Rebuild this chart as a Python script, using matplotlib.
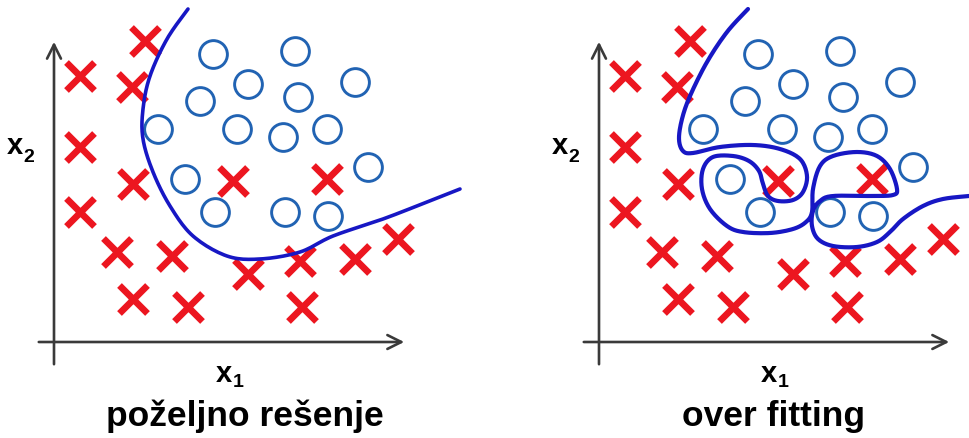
# Decision boundaries: good fit vs over fitting

import numpy as np
import matplotlib.pyplot as plt

# Training samples (same set in both panels), units roughly px from axis origin
cross_x = [91, 26, 78, 26, 79, 26, 179, 273, 63, 118, 194, 246, 301, 344, 79, 134, 248]
cross_y = [301, 266, 255, 195, 158, 130, 161, 163, 90, 86, 68, 81, 83, 103, 43, 35, 35]
circle_x = [159, 241, 194, 244, 301, 146, 104, 183, 229, 273, 314, 131, 161, 231, 274]
circle_y = [288, 291, 258, 245, 260, 241, 213, 213, 205, 213, 175, 163, 130, 130, 126]

# Boundary of the good model
good_x = [134, 113, 96, 89, 89, 99, 116, 139, 173, 206, 246, 279, 329, 373, 406]
good_y = [333, 303, 266, 233, 203, 170, 136, 106, 86, 83, 90, 106, 123, 140, 153]

# Boundary of the over fitted model
over_x = [149, 128, 108, 91, 83, 80, 84, 94, 121, 154, 181, 201, 208, 204, 194, 179,
          169, 164, 160, 150, 134, 114, 104, 103, 111, 128, 144, 171, 194, 207, 213,
          214, 221, 234, 258, 278, 291, 298, 294, 274, 234, 221, 214, 213, 219, 234,
          258, 278, 291, 304, 324, 344, 370]
over_y = [333, 310, 280, 246, 223, 203, 191, 189, 195, 197, 193, 183, 166, 150, 142, 141,
          146, 158, 171, 181, 186, 185, 173, 153, 133, 116, 110, 109, 113, 120, 130,
          153, 176, 186, 190, 186, 173, 153, 147, 146, 146, 141, 131, 116, 103, 96,
          95, 100, 110, 123, 136, 143, 146]

titles = ['poželjno rešenje', 'over fitting']


def smooth(x, y, n=12):
    # catmull-rom through the traced points so the line isn't jagged
    pts = np.column_stack([x, y]).astype(float)
    p = np.vstack([pts[0], pts, pts[-1]])
    t = np.linspace(0, 1, n, endpoint=False)[:, None]
    out = []
    for i in range(1, len(p) - 2):
        p0, p1, p2, p3 = p[i - 1], p[i], p[i + 1], p[i + 2]
        out.append(0.5 * (2 * p1 + (-p0 + p2) * t + (2 * p0 - 5 * p1 + 4 * p2 - p3) * t ** 2
                          + (-p0 + 3 * p1 - 3 * p2 + p3) * t ** 3))
    out.append(pts[-1:])
    return np.vstack(out)


fig = plt.figure(figsize=(9.69, 4.39), dpi=100)
ax1 = fig.add_axes([0, 0, 485 / 969, 1])
ax2 = fig.add_axes([485 / 969, 0, 484 / 969, 1])
ax1.set_xlim(-54, 431)
ax2.set_xlim(-114, 370)

font = 'Liberation Sans'

panels = [(ax1, good_x, good_y, titles[0], 191, 2.6),
          (ax2, over_x, over_y, titles[1], 174, 3.0)]

for ax, bx, by, title, title_x, lw in panels:
    ax.set_ylim(-96, 343)
    ax.axis('off')

    # axes arrows
    ax.annotate('', xy=(353, 0), xytext=(-18, 0),
                arrowprops=dict(arrowstyle='->', color='#3a3a3a', lw=1.9, mutation_scale=25))
    ax.annotate('', xy=(0, 303), xytext=(0, -25),
                arrowprops=dict(arrowstyle='->', color='#3a3a3a', lw=1.9, mutation_scale=25))

    ax.plot(cross_x, cross_y, 'x', color='#ec1620', ms=20, mew=4.8, ls='none')
    ax.plot(circle_x, circle_y, 'o', mfc='none', mec='#2163b3', ms=20, mew=2.1, ls='none')

    curve = smooth(bx, by)
    ax.plot(curve[:, 0], curve[:, 1], color='#1717c4', lw=lw,
            solid_capstyle='round', solid_joinstyle='round')

    ax.text(-39, 197, 'x', fontsize=21, fontweight='bold', family=font, ha='center', va='center')
    ax.text(-25, 185, '2', fontsize=14, fontweight='bold', family=font, ha='center', va='center')
    ax.text(170, -31, 'x', fontsize=21, fontweight='bold', family=font, ha='center', va='center')
    ax.text(184, -40, '1', fontsize=14, fontweight='bold', family=font, ha='center', va='center')
    ax.text(title_x, -83, title, fontsize=25.5, fontweight='bold', family=font,
            ha='center', va='baseline')

plt.savefig('out.png', dpi=100)
